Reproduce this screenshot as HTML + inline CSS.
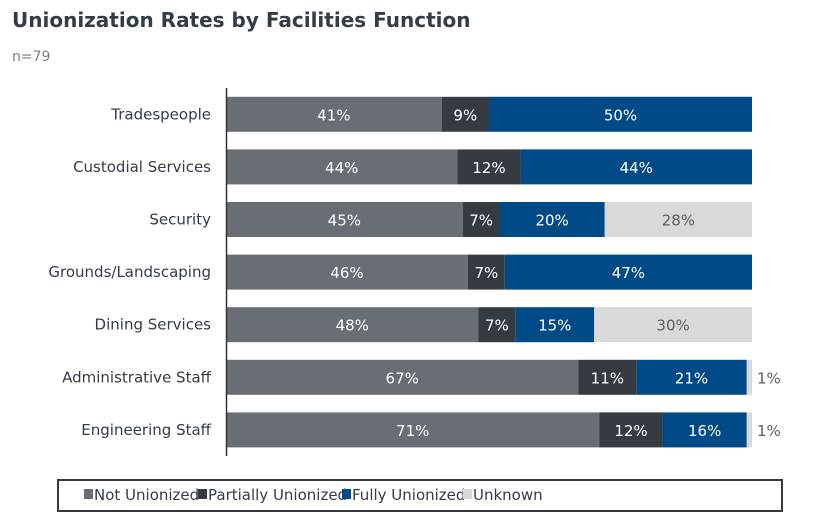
<!DOCTYPE html>
<html><head><meta charset="utf-8"><style>
body{margin:0;background:#fff;font-family:"DejaVu Sans","Liberation Sans",sans-serif}
</style></head><body>
<svg width="817" height="524" xmlns="http://www.w3.org/2000/svg" font-family="DejaVu Sans, Liberation Sans, sans-serif">
<text x="12" y="27" font-size="20" font-weight="bold" fill="#333c47">Unionization Rates by Facilities Function</text>
<text x="12" y="61" font-size="14" fill="#7a7f85">n=79</text>
<g id="bars"></g>
<line x1="226.5" y1="88" x2="226.5" y2="456" stroke="#333" stroke-width="1.5"/>
<rect x="58" y="480" width="724" height="31" fill="none" stroke="#363a3f" stroke-width="2"/>
<g id="legend"></g>
</svg>
<script>
const categories=["Tradespeople","Custodial Services","Security","Grounds/Landscaping","Dining Services","Administrative Staff","Engineering Staff"];
const seriesNames=["Not Unionized","Partially Unionized","Fully Unionized","Unknown"];
const notUnionized=[41,44,45,46,48,67,71];
const partially=[9,12,7,7,7,11,12];
const fully=[50,44,20,47,15,21,16];
const unknown=[0,0,28,0,30,1,1];
const colors=["#696e74","#363b42","#004a87","#d9d9d9"];
const textColors=["#fff","#fff","#fff","#5a5f65"];
const series=[notUnionized,partially,fully,unknown];
const NS="http://www.w3.org/2000/svg";
const x0=226,pxPer=5.26,rowTop=88,rowH=52.6,barH=35;
const xs=v=>x0+v*pxPer;
const yc=i=>rowTop+rowH*(i+0.5);
const g=document.getElementById('bars');
categories.forEach((c,i)=>{
  const t=document.createElementNS(NS,'text');
  
  
  t.setAttribute('x',211);t.setAttribute('y',yc(i)+5);t.setAttribute('text-anchor','end');
  t.setAttribute('font-size','15');t.setAttribute('fill','#333c47');t.textContent=c;g.appendChild(t);
  let cum=0;
  series.forEach((s,k)=>{
    const v=s[i];if(!v){return;}
    const r=document.createElementNS(NS,'rect');
    
    
    r.setAttribute('x',xs(cum));r.setAttribute('y',yc(i)-barH/2);
    r.setAttribute('width',v*pxPer);r.setAttribute('height',barH);r.setAttribute('fill',colors[k]);g.appendChild(r);
    const l=document.createElementNS(NS,'text');
    
    
    const small=v<3;
    l.setAttribute('x',small?xs(cum+v)+5:xs(cum+v/2));
    l.setAttribute('text-anchor',small?'start':'middle');
    l.setAttribute('y',yc(i)+6);l.setAttribute('font-size','15');
    l.setAttribute('fill',small?'#5a5f65':textColors[k]);l.textContent=v+'%';g.appendChild(l);
    cum+=v;
  });
});
const lg=document.getElementById('legend');
const legX=[84,198,342,463];
seriesNames.forEach((n,k)=>{
  const r=document.createElementNS(NS,'rect');
  
  
  r.setAttribute('x',legX[k]);r.setAttribute('y',489);r.setAttribute('width',9);r.setAttribute('height',10);r.setAttribute('fill',colors[k]);lg.appendChild(r);
  const t=document.createElementNS(NS,'text');
  
  
  t.setAttribute('x',legX[k]+10);t.setAttribute('y',500);t.setAttribute('font-size','15');t.setAttribute('fill','#333c47');t.textContent=n;lg.appendChild(t);
});
</script>
</body></html>
